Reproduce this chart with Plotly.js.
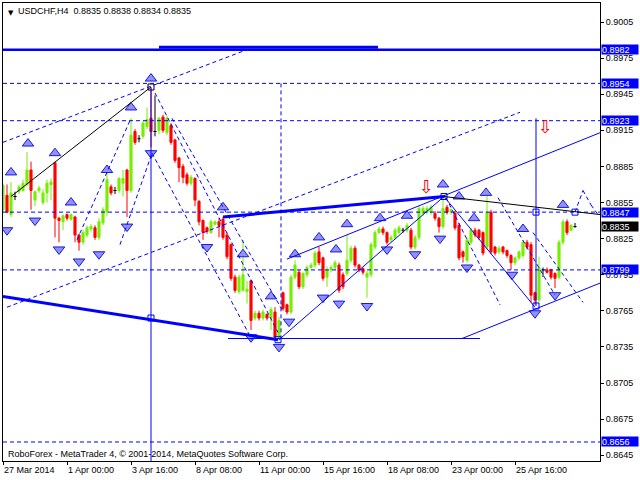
<!DOCTYPE html>
<html><head><meta charset="utf-8">
<script src="https://cdn.plot.ly/plotly-3.0.1.min.js"></script>
<style>html,body{margin:0;padding:0;background:#fff}#chart{width:640px;height:480px}</style>
</head><body><div id="chart"></div>
<script>
// ---- candle data (USDCHF H4) ----
const openP = [0.8849,0.8861,0.8845,0.8860,0.8864,0.8865,0.8870,0.8882,0.8857,0.8865,0.8855,0.8863,0.8870,0.8888,0.8842,0.8839,0.8845,0.8841,0.8843,0.8828,0.8822,0.8828,0.8833,0.8834,0.8826,0.8838,0.8847,0.8868,0.8865,0.8865,0.8871,0.8882,0.8865,0.8914,0.8908,0.8910,0.8918,0.8925,0.8914,0.8915,0.8926,0.8913,0.8919,0.8907,0.8892,0.8885,0.8878,0.8871,0.8875,0.8856,0.8840,0.8834,0.8830,0.8837,0.8839,0.8841,0.8828,0.8820,0.8793,0.8781,0.8782,0.8781,0.8790,0.8759,0.8763,0.8759,0.8762,0.8759,0.8764,0.8743,0.8780,0.8770,0.8764,0.8793,0.8797,0.8785,0.8795,0.8801,0.8803,0.8814,0.8809,0.8793,0.8799,0.8801,0.8803,0.8795,0.8796,0.8807,0.8817,0.8803,0.8800,0.8793,0.8795,0.8818,0.8830,0.8833,0.8830,0.8824,0.8826,0.8830,0.8832,0.8832,0.8832,0.8818,0.8826,0.8846,0.8847,0.8847,0.8846,0.8842,0.8835,0.8851,0.8847,0.8846,0.8836,0.8814,0.8807,0.8822,0.8832,0.8832,0.8830,0.8818,0.8847,0.8818,0.8814,0.8818,0.8815,0.8811,0.8805,0.8809,0.8811,0.8822,0.8820,0.8780,0.8774,0.8799,0.8799,0.8799,0.8796,0.8793,0.8822,0.8839,0.8832,0.8835];
const highP = [0.8871,0.8870,0.8872,0.8864,0.8870,0.8874,0.8897,0.8889,0.8865,0.8869,0.8866,0.8874,0.8875,0.8889,0.8843,0.8845,0.8846,0.8846,0.8844,0.8829,0.8832,0.8836,0.8837,0.8836,0.8842,0.8851,0.8880,0.8870,0.8868,0.8876,0.8882,0.8883,0.8925,0.8916,0.8911,0.8923,0.8934,0.8951,0.8944,0.8926,0.8928,0.8927,0.8921,0.8908,0.8893,0.8887,0.8880,0.8878,0.8876,0.8857,0.8841,0.8835,0.8841,0.8840,0.8842,0.8843,0.8830,0.8821,0.8795,0.8795,0.8824,0.8790,0.8791,0.8765,0.8765,0.8766,0.8763,0.8768,0.8768,0.8760,0.8781,0.8771,0.8795,0.8807,0.8799,0.8797,0.8803,0.8805,0.8815,0.8818,0.8810,0.8802,0.8803,0.8807,0.8805,0.8797,0.8828,0.8819,0.8819,0.8804,0.8801,0.8798,0.8822,0.8832,0.8835,0.8835,0.8831,0.8828,0.8834,0.8836,0.8834,0.8838,0.8834,0.8828,0.8852,0.8852,0.8852,0.8853,0.8848,0.8843,0.8861,0.8853,0.8850,0.8848,0.8838,0.8815,0.8826,0.8834,0.8834,0.8833,0.8831,0.8864,0.8849,0.8819,0.8819,0.8819,0.8816,0.8812,0.8810,0.8815,0.8824,0.8824,0.8822,0.8781,0.8810,0.8801,0.8801,0.8800,0.8797,0.8824,0.8841,0.8841,0.8837,0.8838];
const lowP = [0.8846,0.8846,0.8843,0.8857,0.8862,0.8864,0.8868,0.8849,0.8852,0.8863,0.8853,0.8855,0.8857,0.8826,0.8822,0.8832,0.8840,0.8840,0.8822,0.8815,0.8820,0.8826,0.8831,0.8824,0.8824,0.8836,0.8844,0.8861,0.8862,0.8863,0.8860,0.8843,0.8863,0.8903,0.8905,0.8908,0.8916,0.8901,0.8910,0.8912,0.8913,0.8911,0.8903,0.8888,0.8872,0.8871,0.8869,0.8869,0.8852,0.8836,0.8824,0.8829,0.8829,0.8836,0.8826,0.8824,0.8808,0.8790,0.8780,0.8779,0.8781,0.8771,0.8749,0.8757,0.8757,0.8757,0.8757,0.8749,0.8741,0.8740,0.8765,0.8762,0.8762,0.8791,0.8783,0.8783,0.8793,0.8800,0.8801,0.8803,0.8790,0.8785,0.8797,0.8799,0.8780,0.8783,0.8794,0.8805,0.8801,0.8797,0.8795,0.8776,0.8793,0.8816,0.8829,0.8828,0.8820,0.8822,0.8824,0.8829,0.8830,0.8830,0.8816,0.8816,0.8824,0.8844,0.8845,0.8845,0.8840,0.8830,0.8833,0.8845,0.8845,0.8832,0.8807,0.8805,0.8805,0.8820,0.8826,0.8824,0.8811,0.8816,0.8812,0.8811,0.8812,0.8812,0.8809,0.8799,0.8803,0.8807,0.8809,0.8816,0.8772,0.8770,0.8772,0.8793,0.8796,0.8791,0.8784,0.8791,0.8820,0.8828,0.8831,0.8834];
const closeP = [0.8869,0.8847,0.8863,0.8860,0.8868,0.8871,0.8882,0.8865,0.8864,0.8867,0.8863,0.8871,0.8872,0.8842,0.8840,0.8844,0.8842,0.8845,0.8828,0.8822,0.8830,0.8834,0.8835,0.8826,0.8839,0.8849,0.8874,0.8863,0.8865,0.8875,0.8875,0.8865,0.8911,0.8905,0.8908,0.8921,0.8924,0.8914,0.8914,0.8925,0.8915,0.8925,0.8905,0.8890,0.8884,0.8876,0.8871,0.8876,0.8857,0.8839,0.8830,0.8831,0.8839,0.8839,0.8836,0.8826,0.8810,0.8792,0.8782,0.8793,0.8795,0.8783,0.8757,0.8763,0.8759,0.8764,0.8759,0.8766,0.8743,0.8757,0.8767,0.8764,0.8793,0.8803,0.8785,0.8796,0.8801,0.8803,0.8813,0.8805,0.8792,0.8799,0.8801,0.8805,0.8782,0.8785,0.8807,0.8817,0.8803,0.8799,0.8797,0.8796,0.8820,0.8830,0.8833,0.8830,0.8822,0.8826,0.8832,0.8834,0.8832,0.8836,0.8818,0.8826,0.8850,0.8850,0.8850,0.8851,0.8842,0.8835,0.8850,0.8847,0.8849,0.8834,0.8809,0.8810,0.8824,0.8832,0.8828,0.8826,0.8813,0.8847,0.8814,0.8813,0.8817,0.8814,0.8811,0.8805,0.8809,0.8814,0.8822,0.8818,0.8778,0.8774,0.8801,0.8799,0.8797,0.8793,0.8792,0.8822,0.8839,0.8830,0.8836,0.8835];

// ---- axis ticks ----
const dateTickIdx = [0,16,32,48,64,80,96,112,128];
const dateTickText = ['27 Mar 2014','1 Apr 00:00','3 Apr 16:00','8 Apr 08:00','11 Apr 00:00','15 Apr 16:00','18 Apr 08:00','23 Apr 00:00','25 Apr 16:00'];
const priceTicks = [0.9005,0.8975,0.8945,0.8915,0.8885,0.8855,0.8825,0.8795,0.8765,0.8735,0.8705,0.8675,0.8645];

// ---- horizontal levels ----
const solidLevels = [0.8982];
const dashedLevels = [0.8954,0.8923,0.8847,0.8799,0.8656];
const levelLabels = [0.8982,0.8954,0.8923,0.8847,0.8799,0.8656];
const lastPrice = 0.8835;
const headerText = 'USDCHF,H4\u00a0\u00a00.8835 0.8838 0.8834 0.8835';
const footerText = 'RoboForex - MetaTrader 4, \u00a9 2001-2014, MetaQuotes Software Corp.';

// ---- drawn objects: [idx0, price0, idx1, price1] ----
const thickSegs = [[39,0.8984,93.75,0.8984],[0,0.8777,68.75,0.8741],[55,0.8843,110.25,0.8860]];
const thinSegs = [[56.25,0.8742,119.25,0.8742],[114.75,0.8742,149.25,0.8788],[71,0.8808,149.25,0.8913],
  [69,0.8741,110.25,0.8860],[110.25,0.8860,133,0.8768],[37,0.8950,37,0.8640],[133.25,0.8925,133.25,0.8769]];
const blackSegs = [[2,0.8860,37,0.8951],[110.25,0.8860,149.25,0.8845]];
const dashSegs = [[0,0.8905,61,0.8982],[1,0.8768,129.25,0.8930],[69.5,0.8954,69.5,0.8741],
  [18.5,0.8824,32,0.8925],[38,0.8946,68.75,0.8747],[37.25,0.8896,62.25,0.8741],[42.25,0.8925,69.75,0.8766],
  [29.25,0.8820,37.25,0.8896],[110.75,0.8859,124.25,0.8770],[123.75,0.8859,138,0.8778],[132.5,0.8830,145,0.8772],
  [143,0.8847,145,0.8865],[145,0.8865,147,0.8853],[147,0.8853,148.75,0.8845]];

// ---- fractal markers ----
const upIdx = [2,6.25,13,17,26,32,37,55,60,67,73,79,83.25,86,94.25,101,110,114,117.75,120.75,130,140];
const upPrice = [0.8880,0.8904,0.8896,0.8855,0.8882,0.8934,0.8958,0.8851,0.8812,0.8777,0.8812,0.8826,0.8816,0.8837,0.8842,0.8844,0.8870,0.8860,0.8842,0.8863,0.8833,0.8853];
const dnIdx = [1,8,14,19,24,31,37,51,62,69,71.5,80,84,91,96,103,109.25,116,127.25,133,138];
const dnPrice = [0.8832,0.8840,0.8816,0.8806,0.8812,0.8835,0.8896,0.8818,0.8743,0.8735,0.8756,0.8776,0.8771,0.8769,0.8816,0.8812,0.8825,0.8801,0.8795,0.8763,0.8778];
const boxIdx = [37,68.75,110.25,133.25,133.25,143];
const boxPrice = [0.8759,0.8741,0.8860,0.8847,0.8769,0.8847];
const signalIdx = [105.75,135.5];
const signalPrice = [0.8868,0.8918];

// ---- build traces ----
const idx = openP.map((_, i) => i);
const isDoji = openP.map((o, i) => o === closeP[i]);
const keep = (arr) => arr.filter((_, i) => !isDoji[i]);
const candles = {
  type:'candlestick', x: keep(idx), open: keep(openP), high: keep(highP), low: keep(lowP), close: keep(closeP),
  increasing:{line:{color:'#76ee00',width:1},fillcolor:'#76ee00'},
  decreasing:{line:{color:'#ff0000',width:1},fillcolor:'#ff0000'},
  whiskerwidth:0, hoverinfo:'skip', showlegend:false
};
const dx = [], dy = [];
idx.forEach(i => { if (isDoji[i]) {
  dx.push(i, i, null, i-0.4, i+0.4, null); dy.push(lowP[i], highP[i], null, openP[i], openP[i], null);
}});
const doji = {type:'scatter', mode:'lines', x:dx, y:dy, line:{color:'#000',width:1}, hoverinfo:'skip', showlegend:false};
const ups = {type:'scatter', mode:'markers', x:upIdx, y:upPrice, hoverinfo:'skip', showlegend:false,
  marker:{symbol:'triangle-up', size:10, color:'#9090ff', line:{color:'#1a1ad0', width:1}}};
const dns = {type:'scatter', mode:'markers', x:dnIdx, y:dnPrice, hoverinfo:'skip', showlegend:false,
  marker:{symbol:'triangle-down', size:10, color:'#9090ff', line:{color:'#1a1ad0', width:1}}};
const boxes = {type:'scatter', mode:'markers', x:boxIdx, y:boxPrice, hoverinfo:'skip', showlegend:false,
  marker:{symbol:'square-open', size:6, color:'#0000ff', line:{width:1}}};
const peakBox = {type:'scatter', mode:'markers', x:[37], y:[highP[37]], hoverinfo:'skip', showlegend:false,
  marker:{symbol:'square-open', size:6, color:'#000', line:{width:1}}};

const shapes = [];
solidLevels.forEach(v => shapes.push({type:'line', xref:'paper', x0:0, x1:1, yref:'y', y0:v, y1:v, line:{color:'#0000ff', width:2.5}}));
dashedLevels.forEach(v => shapes.push({type:'line', xref:'paper', x0:0, x1:1, yref:'y', y0:v, y1:v, line:{color:'#0000ff', width:1, dash:'4px,3px'}}));
const seg = (s, line) => shapes.push({type:'line', xref:'x', yref:'y', x0:s[0], y0:s[1], x1:s[2], y1:s[3], line});
thickSegs.forEach(s => seg(s, {color:'#0000ff', width:3}));
thinSegs.forEach(s => seg(s, {color:'#0000ff', width:1}));
blackSegs.forEach(s => seg(s, {color:'#000000', width:1}));
dashSegs.forEach(s => seg(s, {color:'#0000ff', width:1, dash:'4px,3px'}));

const font = 'Liberation Sans, Arial, sans-serif';
const annotations = [];
levelLabels.forEach(v => annotations.push({xref:'paper', x:1, xanchor:'left', xshift:1, yref:'y', y:v,
  text:v.toFixed(4), showarrow:false, bgcolor:'#0000ff', font:{color:'#fff', size:9, family:font}, width:36, height:9, borderpad:0, align:'left'}));
annotations.push({xref:'paper', x:1, xanchor:'left', xshift:1, yref:'y', y:lastPrice,
  text:lastPrice.toFixed(4), showarrow:false, bgcolor:'#000', font:{color:'#fff', size:9, family:font}, width:36, height:9, borderpad:0, align:'left'});
signalIdx.forEach((v, k) => annotations.push({xref:'x', x:v, yref:'y', y:signalPrice[k], text:'\u21e9', showarrow:false,
  font:{color:'#ff0000', size:18, family:'DejaVu Sans'}}));
annotations.push({xref:'paper', x:0, y:1, yref:'paper', xanchor:'left', yanchor:'top', xshift:3, yshift:-4, showarrow:false,
  text:'\u25bc', font:{size:7, color:'#000', family:'DejaVu Sans'}});
annotations.push({xref:'paper', x:0, y:1, yref:'paper', xanchor:'left', yanchor:'top', xshift:13, yshift:-1, showarrow:false,
  text:headerText, font:{size:9, color:'#000', family:font}});
annotations.push({xref:'paper', x:0, y:0, yref:'paper', xanchor:'left', yanchor:'bottom', xshift:3, yshift:0, showarrow:false,
  text:footerText, font:{size:9, color:'#000', family:font}});

const layout = {
  width:640, height:480, margin:{l:3, r:40, t:3, b:19},
  paper_bgcolor:'#fff', plot_bgcolor:'#fff', showlegend:false, hovermode:false, boxgap:0.25,
  font:{family:font, size:9, color:'#000'},
  xaxis:{range:[0,149.25], showgrid:false, zeroline:false, showline:true, mirror:true, linecolor:'#000', linewidth:1,
    ticks:'outside', ticklen:3, tickcolor:'#000', tickvals:dateTickIdx, ticktext:dateTickText,
    ticklabelposition:'outside right', tickfont:{size:9, family:font, color:'#000'}, rangeslider:{visible:false}, fixedrange:true},
  yaxis:{range:[0.86402,0.90208], side:'right', showgrid:false, zeroline:false, showline:true, mirror:true, linecolor:'#000', linewidth:1,
    ticks:'outside', ticklen:3, tickcolor:'#000', tickvals:priceTicks, tickformat:'.4f', tickfont:{size:9, family:font, color:'#000'}, fixedrange:true},
  shapes, annotations
};
Plotly.newPlot('chart', [candles, doji, ups, dns, boxes, peakBox], layout, {staticPlot:true, displayModeBar:false});
</script></body></html>
